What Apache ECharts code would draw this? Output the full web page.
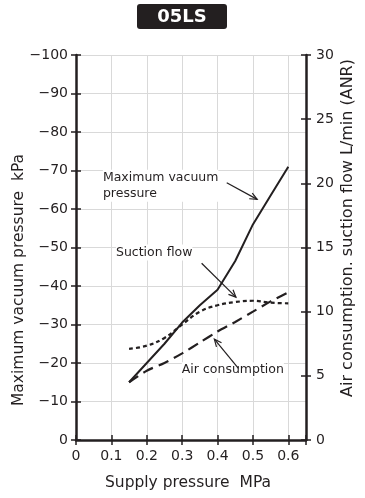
<!DOCTYPE html>
<html><head><meta charset="utf-8">
<script src="https://cdn.jsdelivr.net/npm/echarts@6/dist/echarts.min.js"></script>
<style>html,body{margin:0;padding:0;background:#fff}#c{width:365px;height:498px}</style>
</head><body><div id="c"></div>
<script>
const title = '05LS';
const xName = 'Supply pressure  MPa';
const leftName = 'Maximum vacuum pressure  kPa';
const rightName = 'Air consumption. suction flow L/min (ANR)';
const pressure = [0.15, 0.2, 0.25, 0.3, 0.35, 0.4, 0.45, 0.5, 0.55, 0.6];
const vacuum = [-15, -20, -25, -30.5, -35, -39, -46.5, -56, -63.5, -71];
const suction = [7.1, 7.35, 7.95, 9.0, 10.0, 10.5, 10.75, 10.85, 10.7, 10.65];
const airCons = [4.5, 5.4, 6.0, 6.75, 7.6, 8.45, 9.2, 10.0, 10.8, 11.5];
const labelVacuum = 'Maximum vacuum\npressure';
const labelSuction = 'Suction flow';
const labelAir = 'Air consumption';

const FONT = '"DejaVu Sans", sans-serif';
const INK = '#231f20';
const chart = echarts.init(document.getElementById('c'), null, {renderer: 'canvas'});
const zip = (a, b) => a.map((v, i) => [v, b[i]]);

const lineSt = {show: true, lineStyle: {color: INK, width: 2.5}};
const tickOut = {show: true, length: 5, lineStyle: {color: INK, width: 1.5}};
const tickIn = {show: true, inside: true, length: 5, lineStyle: {color: INK, width: 1.5}};
const lbl = {color: INK, fontSize: 14, fontFamily: FONT};
const split = {show: true, lineStyle: {color: '#d9d9d9', width: 1}};
const leftFmt = v => (v === 0 ? '0' : '\u2212' + Math.abs(v));
const xFmt = v => (v > 0.62 ? '' : String(+v.toFixed(1)));
const gridBox = {left: 76, right: 59, top: 55, bottom: 58, containLabel: false};
const hidden = {axisLine: {show: false}, splitLine: {show: false}, axisLabel: {show: false}, axisTick: tickIn};

chart.setOption({
  animation: false,
  backgroundColor: '#fff',
  grid: [Object.assign({}, gridBox), Object.assign({}, gridBox)],
  xAxis: [
    {gridIndex: 0, type: 'value', min: 0, max: 0.65, interval: 0.1, position: 'bottom',
     axisLine: lineSt, axisTick: tickOut, splitLine: split,
     axisLabel: Object.assign({}, lbl, {margin: 9, formatter: xFmt})},
    Object.assign({gridIndex: 1, type: 'value', min: 0, max: 0.65, interval: 0.1, position: 'bottom'}, hidden)
  ],
  yAxis: [
    {gridIndex: 0, type: 'value', min: -100, max: 0, interval: 10, inverse: true, position: 'left',
     axisLine: lineSt, axisTick: tickOut, splitLine: split,
     axisLabel: Object.assign({}, lbl, {margin: 8, formatter: leftFmt})},
    {gridIndex: 0, type: 'value', min: 0, max: 30, interval: 5, position: 'right',
     axisLine: lineSt, axisTick: tickOut, splitLine: {show: false},
     axisLabel: Object.assign({}, lbl, {margin: 10})},
    Object.assign({gridIndex: 1, type: 'value', min: -100, max: 0, interval: 10, inverse: true, position: 'left'}, hidden),
    Object.assign({gridIndex: 1, type: 'value', min: 0, max: 30, interval: 5, position: 'right'}, hidden)
  ],
  series: [
    {type: 'line', name: 'vacuum', xAxisIndex: 0, yAxisIndex: 0, data: zip(pressure, vacuum), showSymbol: false, symbol: 'none',
     lineStyle: {color: INK, width: 2}, z: 5},
    {type: 'line', name: 'suction', xAxisIndex: 0, yAxisIndex: 1, data: zip(pressure, suction), showSymbol: false, symbol: 'none', smooth: 0.4,
     lineStyle: {color: INK, width: 2.2, type: [4, 3]}, z: 4},
    {type: 'line', name: 'air', xAxisIndex: 0, yAxisIndex: 1, data: zip(pressure, airCons), showSymbol: false, symbol: 'none', smooth: 0.3,
     lineStyle: {color: INK, width: 2.2, type: [11, 6]}, z: 4}
  ]
});

// annotation anchors in (MPa, kPa) data space
const notes = [
  {text: labelVacuum, at: [0.076, -70.2], from: [0.426, -66.8], to: [0.512, -62.5]},
  {text: labelSuction, at: [0.113, -50.8], from: [0.355, -45.9], to: [0.452, -37.1]},
  {text: labelAir, at: [0.299, -20.2], from: [0.459, -18.6], to: [0.391, -26.2]}
];
const px = p => chart.convertToPixel({xAxisIndex: 0, yAxisIndex: 0}, p);
const graphics = [];
notes.forEach(n => {
  const a = px(n.at), f = px(n.from), t = px(n.to);
  graphics.push({type: 'text', x: a[0], y: a[1], z: 10,
    style: {text: n.text, fill: INK, font: '12.5px ' + FONT, lineHeight: 16, backgroundColor: '#fff'}});
  const ang = Math.atan2(t[1] - f[1], t[0] - f[0]);
  const L = 8, s = 0.42;
  const w1 = [t[0] - L * Math.cos(ang - s), t[1] - L * Math.sin(ang - s)];
  const w2 = [t[0] - L * Math.cos(ang + s), t[1] - L * Math.sin(ang + s)];
  graphics.push({type: 'polyline', z: 10, shape: {points: [f, t]}, style: {stroke: INK, lineWidth: 1.2, fill: null}});
  graphics.push({type: 'polyline', z: 10, shape: {points: [w1, t, w2]}, style: {stroke: INK, lineWidth: 1.2, fill: null}});
});
// title badge
graphics.push({type: 'rect', x: 137, y: 4, z: 10, shape: {x: 0, y: 0, width: 90, height: 25, r: 3}, style: {fill: INK}});
graphics.push({type: 'text', x: 182, y: 17, z: 11,
  style: {text: title, fill: '#fff', font: 'bold 18px ' + FONT, align: 'center', verticalAlign: 'middle'}});
// axis names
graphics.push({type: 'text', x: 188, y: 483, z: 10,
  style: {text: xName, fill: INK, font: '15.5px ' + FONT, align: 'center', verticalAlign: 'middle'}});
graphics.push({type: 'text', x: 19, y: 280, rotation: Math.PI / 2, z: 10,
  style: {text: leftName, fill: INK, font: '15.5px ' + FONT, align: 'center', verticalAlign: 'middle'}});
graphics.push({type: 'text', x: 348, y: 228, rotation: Math.PI / 2, z: 10,
  style: {text: rightName, fill: INK, font: '16px ' + FONT, align: 'center', verticalAlign: 'middle'}});
chart.setOption({graphic: graphics});
</script></body></html>
